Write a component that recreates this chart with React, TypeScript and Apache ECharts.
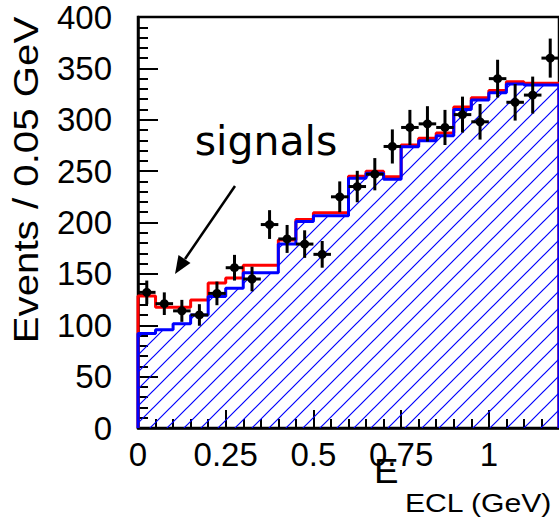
import React, { useEffect, useRef } from "react";
import * as echarts from "echarts";

// Bin edges of E_ECL (GeV), 0.05 GeV bins
const binEdges = [
  0, 0.05, 0.1, 0.15, 0.2, 0.25, 0.3, 0.35, 0.4, 0.45, 0.5, 0.55, 0.6,
  0.65, 0.7, 0.75, 0.8, 0.85, 0.9, 0.95, 1.0, 1.05, 1.1, 1.15, 1.2,
];

// Data points (events per bin) and their vertical errors
const dataCounts = [
  132, 121, 114, 110, 131, 156, 145, 198, 184, 179, 169, 225,
  235, 247, 274, 292.5, 296, 292.5, 305, 298, 340, 317, 324, 360,
];
const dataErrors = [
  11.5, 11, 10.7, 10.5, 11.5, 12.5, 12, 14, 13.6, 13.4, 13, 15,
  15.3, 15.7, 16.6, 17.1, 17.2, 17.1, 17.5, 17.3, 18.4, 17.8, 18, 19,
];

// Total fit (signal + background), red histogram
const totalFit = [
  128.5, 117.5, 117.5, 124.5, 141, 146, 158.5, 158.5, 183, 203, 209.5, 209.5,
  245, 250, 244.5, 275.5, 282, 287, 312.5, 321.5, 328.5, 337, 335.5, 335.5,
];

// Background, blue hatched histogram
const background = [
  92, 95.5, 101.5, 110, 128, 136, 151, 151, 179, 201, 206.6, 206.6,
  243, 248, 242, 273.8, 279.6, 284.5, 310, 319.2, 326.3, 334.8, 333.8, 333.8,
];

const xTickLabels = ["0", "0.25", "0.5", "0.75", "1"];
const yTickLabels = ["0", "50", "100", "150", "200", "250", "300", "350", "400"];

function stepPoints(values: number[]): number[][] {
  const pts: number[][] = [[binEdges[0], 0]];
  values.forEach((v, i) => pts.push([binEdges[i], v]));
  pts.push([binEdges[values.length], values[values.length - 1]]);
  pts.push([binEdges[values.length], 0]);
  return pts;
}

const FONT = '"Liberation Sans", Arial, sans-serif';

export default function App() {
  const ref = useRef<HTMLDivElement>(null);

  useEffect(() => {
    if (!ref.current) return;
    const chart = echarts.init(ref.current, null, { renderer: "svg" });

    const tileSize = 17;
    const tile = document.createElement("canvas");
    tile.width = tileSize;
    tile.height = tileSize;
    const ctx = tile.getContext("2d")!;
    ctx.strokeStyle = "#0000ff";
    ctx.lineWidth = 1.2;
    ctx.beginPath();
    ctx.moveTo(-2, tileSize + 2);
    ctx.lineTo(tileSize + 2, -2);
    ctx.moveTo(-2, 2);
    ctx.lineTo(2, -2);
    ctx.moveTo(tileSize - 2, tileSize + 2);
    ctx.lineTo(tileSize + 2, tileSize - 2);
    ctx.stroke();

    const xFmt = (v: number) => {
      const idx = Math.round(v / 0.25);
      return Math.abs(v - idx * 0.25) < 1e-6 && idx < xTickLabels.length ? xTickLabels[idx] : "";
    };
    const yFmt = (v: number) => {
      const idx = Math.round(v / 50);
      return idx >= 0 && idx < yTickLabels.length ? yTickLabels[idx] : "";
    };

    const option: any = {
      animation: false,
      grid: {
        left: 138,
        top: 17,
        width: 422,
        height: 411,
        show: true,
        borderColor: "#000",
        borderWidth: 2.5,
        backgroundColor: "transparent",
      },
      xAxis: [
        {
          type: "value",
          position: "bottom",
          min: 0,
          max: 1.2,
          interval: 0.25,
          axisLine: { show: true, lineStyle: { color: "#000", width: 2.5 } },
          axisTick: { show: true, inside: true, length: 18, lineStyle: { color: "#000", width: 2 } },
          axisLabel: {
            show: true,
            margin: 10,
            color: "#000",
            fontSize: 33,
            fontFamily: FONT,
            showMaxLabel: false,
            formatter: xFmt,
          },
          splitLine: { show: false },
        },
        {
          type: "value",
          position: "bottom",
          min: 0,
          max: 1.2,
          interval: 0.05,
          axisLine: { show: false },
          axisTick: { show: true, inside: true, length: 9, lineStyle: { color: "#000", width: 2 } },
          axisLabel: { show: false },
          splitLine: { show: false },
        },
      ],
      yAxis: {
        type: "value",
        min: 0,
        max: 400,
        interval: 50,
        axisLine: { show: true, lineStyle: { color: "#000", width: 2.5 } },
        axisTick: { show: true, inside: true, length: 20, lineStyle: { color: "#000", width: 2 } },
        minorTick: { show: true, splitNumber: 5, length: 10, lineStyle: { color: "#000", width: 2 } },
        axisLabel: {
          show: true,
          margin: 26,
          color: "#000",
          fontSize: 33,
          fontFamily: FONT,
          formatter: yFmt,
        },
        splitLine: { show: false },
        minorSplitLine: { show: false },
      },
      series: [
        {
          name: "total",
          type: "line",
          xAxisIndex: 0,
          yAxisIndex: 0,
          step: "end",
          symbol: "none",
          showSymbol: false,
          data: stepPoints(totalFit),
          lineStyle: { color: "#ff0000", width: 3 },
          z: 3,
        },
        {
          name: "background",
          type: "line",
          xAxisIndex: 0,
          yAxisIndex: 0,
          step: "end",
          symbol: "none",
          showSymbol: false,
          data: stepPoints(background),
          lineStyle: { color: "#0000ff", width: 3 },
          areaStyle: {
            color: { image: tile, repeat: "repeat", imageWidth: tileSize, imageHeight: tileSize },
            opacity: 1,
          },
          z: 4,
        },
        {
          name: "data",
          type: "custom",
          xAxisIndex: 0,
          yAxisIndex: 0,
          data: dataCounts.map((c, i) => [binEdges[i], binEdges[i + 1], c, dataErrors[i]]),
          encode: { x: [0, 1], y: 2 },
          renderItem: (_params: any, api: any) => {
            const lo = api.value(0);
            const hi = api.value(1);
            const y = api.value(2);
            const e = api.value(3);
            const xc = (lo + hi) / 2;
            const c = api.coord([xc, y]);
            const t = api.coord([xc, y + e]);
            const b = api.coord([xc, y - e]);
            const l = api.coord([lo, y]);
            const r = api.coord([hi, y]);
            return {
              type: "group",
              children: [
                {
                  type: "line",
                  shape: { x1: l[0], y1: l[1], x2: r[0], y2: r[1] },
                  style: { stroke: "#000", lineWidth: 3 },
                },
                {
                  type: "line",
                  shape: { x1: t[0], y1: t[1], x2: b[0], y2: b[1] },
                  style: { stroke: "#000", lineWidth: 3 },
                },
                {
                  type: "circle",
                  shape: { cx: c[0], cy: c[1], r: 4.5 },
                  style: { fill: "#000" },
                },
              ],
            };
          },
          z: 10,
        },
      ],
      graphic: [
        {
          type: "text",
          x: 26,
          y: 180,
          rotation: Math.PI / 2,
          scaleX: 1.15,
          style: {
            text: "Events / 0.05 GeV",
            fontSize: 35,
            fontFamily: FONT,
            fill: "#000",
            align: "center",
            verticalAlign: "middle",
            textAlign: "center",
            textVerticalAlign: "middle",
          },
        },
        {
          type: "text",
          x: 374,
          y: 471,
          scaleX: 1.05,
          style: {
            text: "E",
            fontSize: 35,
            fontFamily: FONT,
            fill: "#000",
            align: "left",
            verticalAlign: "middle",
            textAlign: "left",
            textVerticalAlign: "middle",
          },
        },
        {
          type: "text",
          x: 405,
          y: 503,
          scaleX: 1.16,
          style: {
            text: "ECL (GeV)",
            fontSize: 26,
            fontFamily: FONT,
            fill: "#000",
            align: "left",
            verticalAlign: "middle",
            textAlign: "left",
            textVerticalAlign: "middle",
          },
        },
        {
          type: "text",
          x: 266,
          y: 141,
          style: {
            text: "signals",
            fontSize: 41,
            fontFamily: '"DejaVu Sans", sans-serif',
            fill: "#000",
            align: "center",
            verticalAlign: "middle",
            textAlign: "center",
            textVerticalAlign: "middle",
          },
        },
        {
          type: "line",
          shape: { x1: 235, y1: 186, x2: 185, y2: 259 },
          style: { stroke: "#000", lineWidth: 2.5 },
        },
        {
          type: "polygon",
          shape: { points: [[175, 274], [190.5, 263], [178.5, 255]] },
          style: { fill: "#000" },
        },
      ],
    };

    chart.setOption(option);
    return () => chart.dispose();
  }, []);

  return (
    <div
      ref={ref}
      style={{ position: "absolute", left: 0, top: 0, width: 559, height: 524 }}
    />
  );
}
